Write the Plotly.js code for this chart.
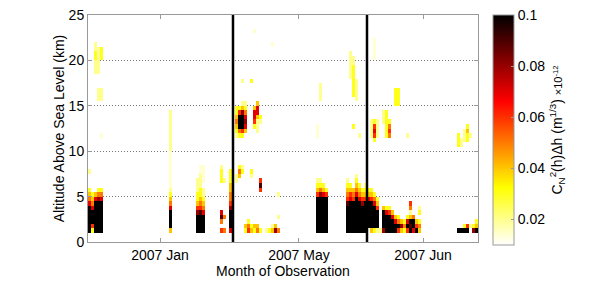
<!DOCTYPE html>
<html><head><meta charset="utf-8">
<script src="https://cdn.plot.ly/plotly-3.0.1.min.js"></script>
<style>body{margin:0;background:#fff;}</style>
</head><body><div id="chart" style="width:598px;height:308px;"></div>
<script>
// ---- data ----
const observationCount = 130;          // observation columns along the x axis
const altitudeStepKm = 0.5;            // vertical resolution of each profile
const altitudeLevels = 50;             // 0 .. 25 km
const levelCodes  = ['0','1','2','3','4','5','6','7','8','9'];
const levelValues = [0.014,0.02,0.03,0.04,0.05,0.06,0.07,0.08,0.09,0.1];
// observation index and its profile: "startLevel:codes" segments
const profileObs = [0,1,2,3,4,27,36,37,38,44,45,47,49,50,51,52,53,54,55,56,57,59,60,61,62,63,
  76,77,78,79,86,87,88,89,90,91,92,93,94,95,96,97,98,99,100,101,102,103,104,105,106,107,108,109,110,
  123,124,125,126,127,128,129];
const profileData = [
  "2:9999996432 15:1",
  "2:259996432",
  "2:999999963 37:1112211",
  "2:9999999742 31:111 37:111111",
  "2:9999999642 23:0 31:111 40:222",
  "2:3999964321 12:00000000 20:111111111",
  "2:999975322111",
  "2:9999854322111 15:00",
  "2:9999643211 13:0000",
  "2:5 4:486 13:2221",
  "2:4 5:4 13:1",
  "2:69999754433222",
  "13:11 23:1234322",
  "14:342 23:2499952",
  "15:21 23:25999731 35:1",
  "2:23 24:3676421",
  "2:542",
  "2:32 14:12 35:2",
  "2:23 25:25663 46:0",
  "2:43 24:1113663",
  "2:2 11:585 26:12",
  "2:1",
  "2:2",
  "2:31 43:0",
  "2:73",
  "2:4 5:1 10:1",
  "2:999999995321 23:000",
  "2:999999997421 31:1111",
  "2:99999999632",
  "2:9999999952",
  "2:999999854321",
  "2:99999996532 36:111111",
  "2:9999999543 25:2 32:2222222 39:11",
  "2:9999999964321 31:11111",
  "2:99999996432 23:1",
  "2:9999997532",
  "2:99999995321",
  "3:999999632",
  "2:3999999532 23:1111",
  "2:299999642 22:25652 40:00000",
  "2:19999532 23:1111",
  "2:1",
  "2:799993 26:111",
  "2:999962 23:222222",
  "2:999952 23:4542",
  "2:99963",
  "2:9963 30:2222",
  "2:5942 30:2222",
  "2:373",
  "2:242",
  "2:5962 23:1",
  "2:9893145",
  "2:6994",
  "2:953",
  "2:342 6:21",
  "2:9 21:222",
  "2:9 21:11",
  "2:92 22:111",
  "2:95 22:2232",
  "3:1 23:1",
  "2:72",
  "2:932"
];
const monthTickPos  = [24, 70.33, 111.67];
const monthTickText = ['2007 Jan', '2007 May', '2007 Jun'];
const monthBreakPos = [48.33, 93];
const altitudeTicks = [0, 5, 10, 15, 20, 25];
const colorTicks    = [0.02, 0.04, 0.06, 0.08, 0.1];

// ---- build grid ----
const xs = [], ys = [], z = [];
for (let c = 0; c < observationCount; c++) xs.push(c + 0.5);
for (let k = 0; k < altitudeLevels; k++) {
  ys.push((k + 0.5) * altitudeStepKm);
  z.push(new Array(observationCount).fill(null));
}
profileObs.forEach((c, i) => {
  profileData[i].split(' ').forEach(seg => {
    const [s, codes] = seg.split(':');
    const start = parseInt(s, 10);
    for (let j = 0; j < codes.length; j++) {
      const idx = levelCodes.indexOf(codes[j]);
      if (idx >= 0) z[start + j][c] = levelValues[idx];
    }
  });
});

const hotRev = [[0,'rgb(255,255,255)'],[0.25,'rgb(255,255,0)'],[0.625,'rgb(255,0,0)'],[1,'rgb(0,0,0)']];
const fontFam = 'Liberation Sans, Arial, sans-serif';

const trace = {
  type: 'heatmap', x: xs, y: ys, z: z,
  zmin: 0.01, zmax: 0.1, colorscale: hotRev, zsmooth: false, hoverongaps: false,
  colorbar: {
    x: (493 - 88) / 390, xanchor: 'left', xpad: 0,
    y: 1, yanchor: 'top', ypad: 0,
    len: 230, lenmode: 'pixels', thickness: 21,
    outlinecolor: '#999', outlinewidth: 1,
    tickvals: colorTicks, ticks: 'inside', ticklen: 3, tickcolor: '#999',
    tickfont: {family: fontFam, size: 14, color: '#000'},
    title: {text: 'C<sub>N</sub><sup>2</sup>(h)Δh (m<sup>1/3</sup>) <span style="font-size:11px">×10<sup>-12</sup></span>',
            side: 'right', font: {family: fontFam, size: 14, color: '#000'}}
  }
};

const shapes = monthBreakPos.map(p => ({
  type: 'line', xref: 'x', yref: 'paper', x0: p, x1: p, y0: 0, y1: 1,
  line: {color: '#000', width: 2.5}
}));

const layout = {
  width: 598, height: 308,
  margin: {l: 88, r: 120, t: 15, b: 66},
  paper_bgcolor: '#fff', plot_bgcolor: '#fff',
  font: {family: fontFam, size: 14, color: '#000'},
  showlegend: false,
  xaxis: {
    range: [0, observationCount], tickvals: monthTickPos, ticktext: monthTickText,
    ticks: 'inside', ticklen: 4, tickcolor: '#999', showgrid: false, zeroline: false,
    showline: true, linecolor: '#999', linewidth: 1, mirror: 'ticks',
    tickfont: {family: fontFam, size: 14},
    title: {text: 'Month of Observation', font: {family: fontFam, size: 14}, standoff: 2}
  },
  yaxis: {
    range: [0, 25], tickvals: altitudeTicks,
    ticks: 'inside', ticklen: 4, tickcolor: '#999', zeroline: false,
    showgrid: true, gridcolor: '#777', griddash: '1px,2px', gridwidth: 1,
    showline: true, linecolor: '#999', linewidth: 1, mirror: 'ticks',
    tickfont: {family: fontFam, size: 14},
    title: {text: 'Altitude Above Sea Level (km)', font: {family: fontFam, size: 14}, standoff: 0}
  },
  shapes: shapes
};

Plotly.newPlot('chart', [trace], layout, {staticPlot: true, displayModeBar: false});
</script>
</body></html>
